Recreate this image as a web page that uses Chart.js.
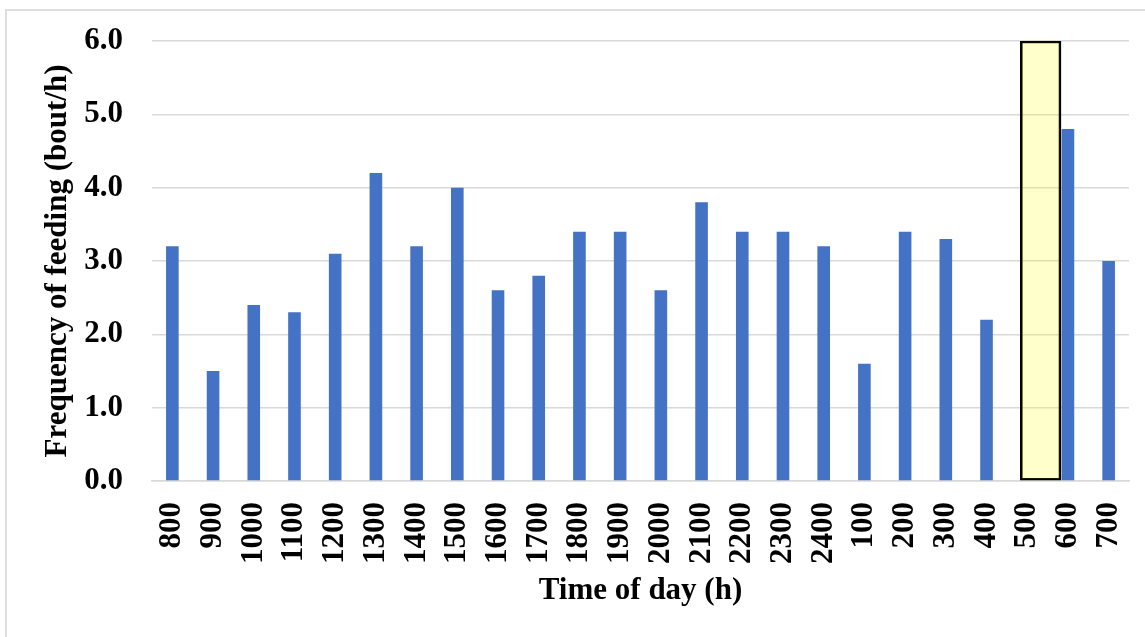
<!DOCTYPE html>
<html>
<head>
<meta charset="utf-8">
<script src="https://cdn.jsdelivr.net/npm/chart.js@4"></script>
<style>
    html, body { margin: 0; padding: 0; background: #fff; }
    body { width: 1145px; height: 637px; position: relative; overflow: hidden; }
    #frame {
        position: absolute; left: 5px; top: 9px; width: 1200px; height: 700px;
        border-left: 2px solid #dedede; border-top: 2px solid #dedede;
    }
    #feedChart { position: absolute; left: 0; top: 0; }
</style>
</head>
<body>
<div id="frame"></div>
<canvas id="feedChart" width="1145" height="637"></canvas>
<script>
// heures de la journée (axe des x)
const hours = ['800', '900', '1000', '1100', '1200', '1300', '1400', '1500', '1600', '1700',
    '1800', '1900', '2000', '2100', '2200', '2300', '2400', '100', '200', '300', '400',
    '500', '600', '700'];

// fréquence d'alimentation (bout/h) par heure
const feedingFreq = [3.2, 1.5, 2.4, 2.3, 3.1, 4.2, 3.2, 4.0, 2.6, 2.8,
    3.4, 3.4, 2.6, 3.8, 3.4, 3.4, 3.2, 1.6, 3.4, 3.3, 2.2,
    null, 4.8, 3.0];

// zone surlignée : position sur l'axe des heures (index) et hauteur
const highlightPos = [21.33];
const highlightTop = [6.0];

const yTicks = [0, 1, 2, 3, 4, 5, 6];

const FONT = { family: "'Liberation Serif', 'Times New Roman', serif", size: 31, weight: 'bold' };

// pas de marge automatique autour de la zone de tracé
function noPadding(scale) {
    scale.paddingLeft = 0;
    scale.paddingRight = 0;
    scale.paddingTop = 0;
    scale.paddingBottom = 0;
}

function initFeedChart() {
    const ctx = document.getElementById('feedChart');
    if (!ctx) return;

    new Chart(ctx.getContext('2d'), {
        type: 'bar',
        data: {
            labels: hours,
            datasets: [{
                label: 'Frequency of feeding',
                data: feedingFreq,
                backgroundColor: '#4472C4',
                borderWidth: 0,
                grouped: false,
                barPercentage: 0.31,
                categoryPercentage: 1,
                xAxisID: 'x',
                order: 1
            }, {
                label: 'highlight',
                data: highlightPos.map((p, i) => ({ x: p, y: highlightTop[i] })),
                backgroundColor: 'rgba(255, 255, 0, 0.2)',
                borderColor: '#000',
                borderWidth: 2,
                borderSkipped: false,
                grouped: false,
                barPercentage: 1,
                categoryPercentage: 1,
                xAxisID: 'x2',
                order: 0
            }]
        },
        options: {
            responsive: false,
            animation: false,
            layout: {
                padding: { top: 41, right: 16, left: 0, bottom: 0 }
            },
            plugins: {
                legend: { display: false },
                tooltip: { enabled: false }
            },
            scales: {
                x: {
                    type: 'category',
                    offset: true,
                    grid: { display: false, drawTicks: false },
                    border: { display: true, color: '#d9d9d9', width: 1.5 },
                    ticks: {
                        color: '#000',
                        font: FONT,
                        padding: 21,
                        minRotation: 90,
                        maxRotation: 90,
                        autoSkip: false
                    },
                    title: {
                        display: true,
                        text: 'Time of day (h)',
                        color: '#000',
                        font: FONT,
                        padding: { top: 4, bottom: 27 }
                    },
                    afterFit: (scale) => {
                        scale.height = 156;
                        noPadding(scale);
                    }
                },
                // axe invisible, même largeur que x, pour placer la zone surlignée
                x2: {
                    type: 'linear',
                    position: 'bottom',
                    offset: false,
                    min: -0.5,
                    max: hours.length - 0.5,
                    grid: { display: false, drawTicks: false, offset: false },
                    border: { display: false },
                    ticks: { display: false, stepSize: 1, includeBounds: false },
                    afterFit: (scale) => {
                        scale.height = 0;
                        noPadding(scale);
                    }
                },
                y: {
                    min: yTicks[0],
                    max: yTicks[yTicks.length - 1],
                    grid: { color: '#d9d9d9', lineWidth: 1.5, drawTicks: false },
                    border: { display: false },
                    afterBuildTicks: (scale) => {
                        scale.ticks = yTicks.map(v => ({ value: v }));
                    },
                    ticks: {
                        color: '#000',
                        font: FONT,
                        padding: 29,
                        callback: (v) => Number(v).toFixed(1)
                    },
                    title: {
                        display: true,
                        text: 'Frequency of feeding (bout/h)',
                        color: '#000',
                        font: FONT,
                        padding: { top: 39, bottom: 0 }
                    },
                    afterFit: (scale) => {
                        scale.width = 152;
                        noPadding(scale);
                    }
                }
            }
        }
    });
}

initFeedChart();
</script>
</body>
</html>
